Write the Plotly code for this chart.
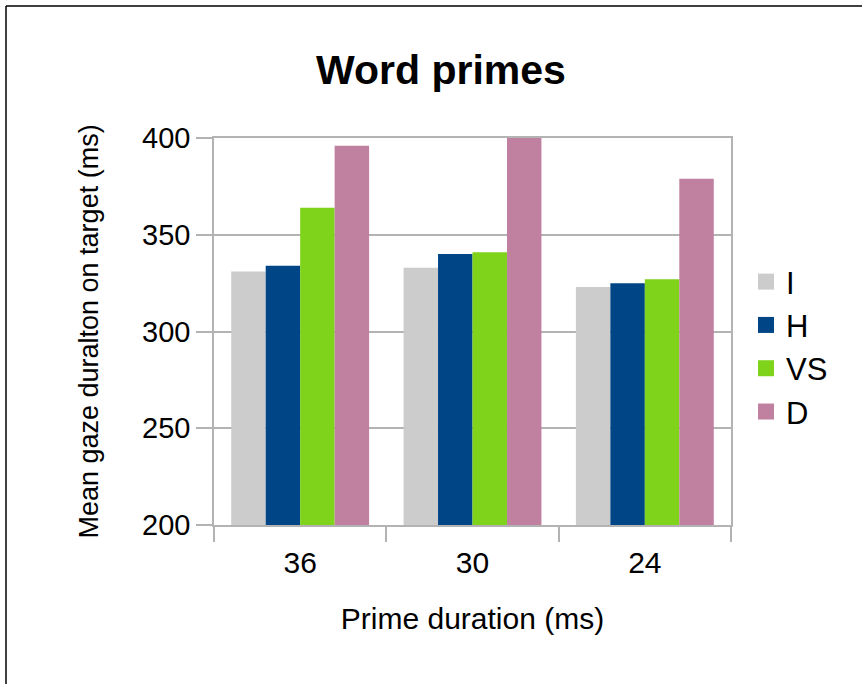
import plotly.graph_objects as go

categories = ["36", "30", "24"]
series_names = ["I", "H", "VS", "D"]
values_I = [331, 333, 323]
values_H = [334, 340, 325]
values_VS = [364, 341, 327]
values_D = [396, 400, 379]
colors = ["#cccccc", "#004586", "#7fd31b", "#c0809f"]

series = [values_I, values_H, values_VS, values_D]

FONT = "Liberation Sans, Arial, sans-serif"

fig = go.Figure()
for name, vals, col in zip(series_names, series, colors):
    fig.add_trace(go.Bar(x=categories, y=vals, name=name, marker_color=col,
                         marker_line_width=0, showlegend=False))
# legend entries with larger square swatches
for name, col in zip(series_names, colors):
    fig.add_trace(go.Scatter(x=[None], y=[None], mode="markers", name=name,
                             marker=dict(symbol="square", size=16, color=col),
                             showlegend=True))

W, H = 862, 684
L, R, T, B = 214, 731, 138, 525

fig.update_layout(
    width=W, height=H,
    margin=dict(l=L, r=W - R, t=T, b=H - B, autoexpand=False),
    paper_bgcolor="white", plot_bgcolor="white",
    barmode="group", bargap=0.2, bargroupgap=0,
    font=dict(family=FONT, color="#000000"),
    title=dict(text="<b>Word primes</b>", x=441 / W, xanchor="center",
               y=1 - 70 / H, yanchor="middle",
               font=dict(size=41, family=FONT, color="#000000")),
    legend=dict(x=(746 - L) / (R - L), xanchor="left", y=0.46, yanchor="middle",
                font=dict(size=31, family=FONT), tracegroupgap=0,
                itemwidth=30, bgcolor="rgba(0,0,0,0)"),
    showlegend=True,
)

fig.update_yaxes(range=[200, 400], tickvals=[200, 250, 300, 350, 400],
                 showgrid=True, gridcolor="#b3b3b3", gridwidth=1.5,
                 showline=True, linecolor="#b3b3b3", linewidth=1.5, mirror=True,
                 ticks="outside", ticklen=16, tickcolor="#b3b3b3", tickwidth=1.5,
                 tickfont=dict(size=29, family=FONT, color="#000000"),
                 zeroline=False,
                 title=dict(text="Mean gaze duralton on target (ms)",
                            font=dict(size=27, family=FONT, color="#000000"),
                            standoff=36))

fig.update_xaxes(showline=True, linecolor="#b3b3b3", linewidth=1.5, mirror=True,
                 ticks="outside", tickson="boundaries", ticklen=15,
                 tickcolor="#b3b3b3", tickwidth=1.5, ticklabelstandoff=10,
                 tickfont=dict(size=30, family=FONT, color="#000000"),
                 title=dict(text="Prime duration (ms)",
                            font=dict(size=30, family=FONT, color="#000000"),
                            standoff=30))

# outer frame lines of the original figure
fig.add_shape(type="line", xref="paper", yref="paper",
              x0=(6 - L) / (R - L), x1=(W + 10 - L) / (R - L),
              y0=(B - 6) / (B - T), y1=(B - 6) / (B - T),
              line=dict(color="#000000", width=1.5))
fig.add_shape(type="line", xref="paper", yref="paper",
              x0=(6 - L) / (R - L), x1=(6 - L) / (R - L),
              y0=(B - 6) / (B - T), y1=(B - H - 10) / (B - T),
              line=dict(color="#000000", width=1.5))

fig.write_html("out.html", config={"displayModeBar": False},
               post_script="document.body.style.margin='0';document.body.style.overflow='hidden';")
